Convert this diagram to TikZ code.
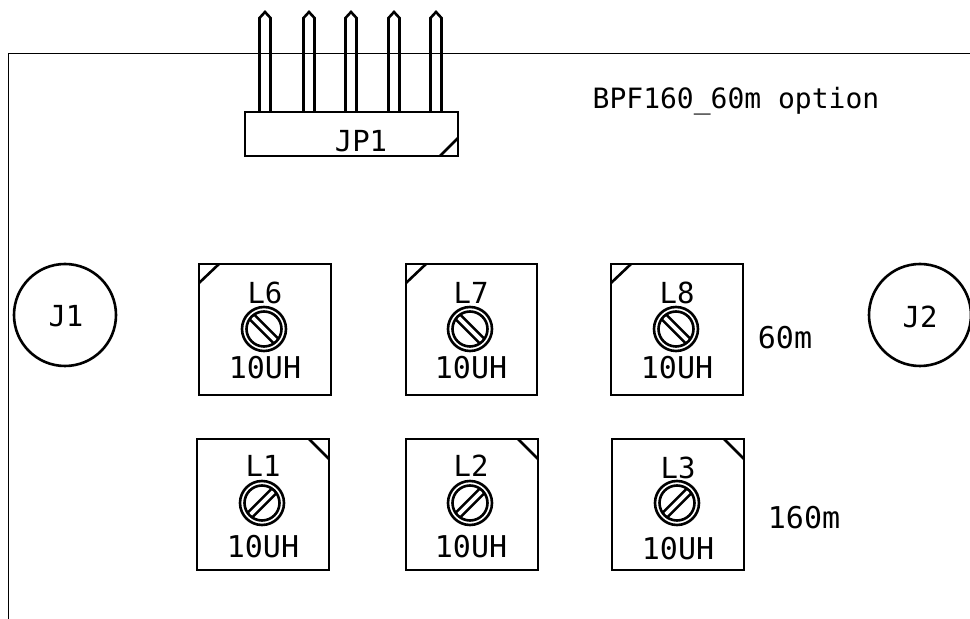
\documentclass[tikz,border=0pt]{standalone}
\usepackage{fontspec}
\setmonofont{DejaVu Sans Mono}
\usepackage{tikz}
\tikzset{
  part/.style={line width=1.3pt},
  board/.style={line width=0.5pt},
  reflabel/.style={inner sep=0pt, font=\ttfamily\fontsize{14.5}{16}\selectfont},
  vallabel/.style={inner sep=0pt, font=\ttfamily\fontsize{15}{17}\selectfont},
  titlelabel/.style={inner sep=0pt, font=\ttfamily\fontsize{14}{15}\selectfont}
}

\begin{document}
\begin{tikzpicture}[x=0.5pt,y=-0.5pt]
\useasboundingbox (0,0) rectangle (970,619);

% ---------- Board outline ----------
\draw[board] (8,619) -- (8,54) -- (970,54);
\node[titlelabel] (title) at (736,101) {BPF160\_60m option};

% ---------- Header JP1 ----------
\draw[part] (245,112) rectangle (458,156);
\draw[part] (440,156) -- (458,138);
\node[reflabel] (jp1) at (361,141) {JP1};

% Pins
\draw[part] (259.5,112) -- (259.5,18) -- (265,12) -- (270.5,18) -- (270.5,112);
\draw[part] (303.5,112) -- (303.5,18) -- (309,12) -- (314.5,18) -- (314.5,112);
\draw[part] (345.5,112) -- (345.5,18) -- (351,12) -- (356.5,18) -- (356.5,112);
\draw[part] (388.5,112) -- (388.5,18) -- (394,12) -- (399.5,18) -- (399.5,112);
\draw[part] (430.5,112) -- (430.5,18) -- (436,12) -- (441.5,18) -- (441.5,112);

% ---------- Connectors ----------
\draw[part] (65,315) circle (51);
\node[reflabel] (j1) at (66,316) {J1};
\draw[part] (920,315) circle (51);
\node[reflabel] (j2) at (920,317) {J2};

% ---------- 60m coils ----------
\draw[part] (199,264) rectangle (331,395);
\draw[part] (199,283) -- (219,264);
\draw[part] (264,329) circle (22);
\draw[part] (264,329) circle (17.5);
\draw[part] (264,329) ++(-9.5,-14.1) -- ++(23.6,23.6);
\draw[part] (264,329) ++(-14.1,-9.5) -- ++(23.6,23.6);
\node[reflabel] (l6) at (265,293) {L6};
\node[vallabel] (l6val) at (265,368) {10UH};

\draw[part] (406,264) rectangle (537,395);
\draw[part] (406,283) -- (426,264);
\draw[part] (470,329) circle (22);
\draw[part] (470,329) circle (17.5);
\draw[part] (470,329) ++(-9.5,-14.1) -- ++(23.6,23.6);
\draw[part] (470,329) ++(-14.1,-9.5) -- ++(23.6,23.6);
\node[reflabel] (l7) at (471,293) {L7};
\node[vallabel] (l7val) at (471,368) {10UH};

\draw[part] (611,264) rectangle (743,395);
\draw[part] (611,283) -- (631,264);
\draw[part] (676,329) circle (22);
\draw[part] (676,329) circle (17.5);
\draw[part] (676,329) ++(-9.5,-14.1) -- ++(23.6,23.6);
\draw[part] (676,329) ++(-14.1,-9.5) -- ++(23.6,23.6);
\node[reflabel] (l8) at (677,293) {L8};
\node[vallabel] (l8val) at (677,368) {10UH};

\node[vallabel] (band60) at (785,338) {60m};

% ---------- 160m coils ----------
\draw[part] (197,439) rectangle (329,570);
\draw[part] (309,439) -- (329,459);
\draw[part] (262,503) circle (22);
\draw[part] (262,503) circle (17.5);
\draw[part] (262,503) ++(-9.5,14.1) -- ++(23.6,-23.6);
\draw[part] (262,503) ++(-14.1,9.5) -- ++(23.6,-23.6);
\node[reflabel] (l1) at (263,466) {L1};
\node[vallabel] (l1val) at (263,547) {10UH};

\draw[part] (406,439) rectangle (538,570);
\draw[part] (518,439) -- (538,459);
\draw[part] (470,503) circle (22);
\draw[part] (470,503) circle (17.5);
\draw[part] (470,503) ++(-9.5,14.1) -- ++(23.6,-23.6);
\draw[part] (470,503) ++(-14.1,9.5) -- ++(23.6,-23.6);
\node[reflabel] (l2) at (471,466) {L2};
\node[vallabel] (l2val) at (471,547) {10UH};

\draw[part] (612,439) rectangle (744,570);
\draw[part] (724,439) -- (744,459);
\draw[part] (677,503) circle (22);
\draw[part] (677,503) circle (17.5);
\draw[part] (677,503) ++(-9.5,14.1) -- ++(23.6,-23.6);
\draw[part] (677,503) ++(-14.1,9.5) -- ++(23.6,-23.6);
\node[reflabel] (l3) at (678,468) {L3};
\node[vallabel] (l3val) at (678,549) {10UH};

\node[vallabel] (band160) at (804,518) {160m};

\end{tikzpicture}
\end{document}
